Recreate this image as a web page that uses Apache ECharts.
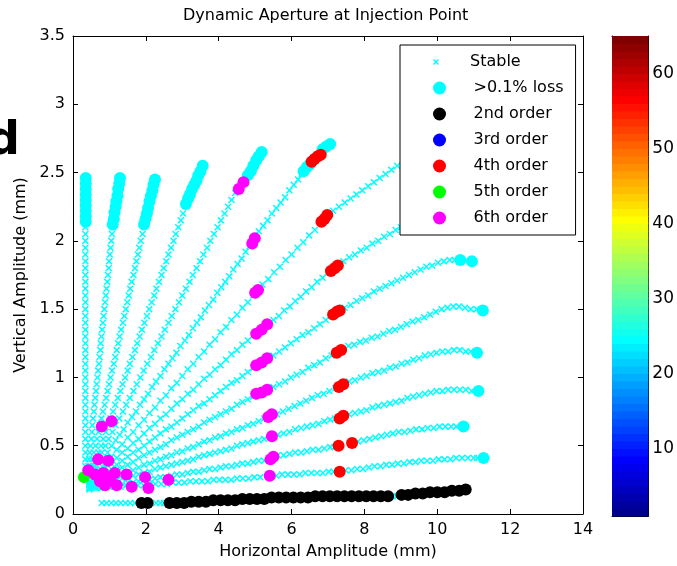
<!DOCTYPE html>
<html><head><meta charset="utf-8">
<script src="https://cdn.jsdelivr.net/npm/echarts@6/dist/echarts.min.js"></script>
<style>html,body{margin:0;padding:0;background:#fff}#c{width:677px;height:566px}</style>
</head><body><div id="c"></div>
<script>
// ---- data ----
const xTicks = [0, 2, 4, 6, 8, 10, 12, 14];
const yTicks = [0, 0.5, 1, 1.5, 2, 2.5, 3, 3.5];
const cbTicks = [10, 20, 30, 40, 50, 60];
const cbLevels = [1,2,3,4,5,6,7,8,9,10,11,12,13,14,15,16,17,18,19,20,21,22,23,24,25,26,27,28,29,30,31,32,
  33,34,35,36,37,38,39,40,41,42,43,44,45,46,47,48,49,50,51,52,53,54,55,56,57,58,59,60,61,62,63,64];

const rayA = [[0.34,0.30],[0.34,0.35],[0.34,0.40],[0.34,0.45],[0.34,0.50],[0.34,0.55],[0.34,0.60],[0.34,0.65],[0.34,0.70],[0.34,0.75],[0.34,0.80],[0.34,0.85],[0.34,0.90],[0.34,0.95],[0.34,1.00],[0.34,1.05],[0.34,1.10],[0.34,1.15],[0.34,1.20],[0.34,1.25],[0.34,1.30],[0.34,1.35],[0.34,1.40],[0.34,1.45],[0.34,1.50],[0.34,1.55],[0.34,1.60],[0.34,1.65],[0.34,1.70],[0.34,1.75],[0.34,1.80],[0.34,1.85],[0.34,1.90],[0.34,1.95],[0.34,2.00],[0.34,2.05],[0.34,2.10]];
const rayB = [[0.40,0.30],[0.42,0.35],[0.44,0.40],[0.46,0.45],[0.48,0.50],[0.50,0.55],[0.52,0.60],[0.53,0.65],[0.55,0.70],[0.57,0.75],[0.59,0.80],[0.61,0.85],[0.63,0.90],[0.65,0.95],[0.67,1.00],[0.69,1.05],[0.71,1.10],[0.73,1.15],[0.75,1.20],[0.76,1.25],[0.78,1.30],[0.80,1.35],[0.82,1.40],[0.84,1.45],[0.86,1.50],[0.88,1.55],[0.90,1.60],[0.92,1.65],[0.94,1.70],[0.96,1.75],[0.98,1.80],[0.99,1.85],[1.01,1.90],[1.03,1.95],[1.05,2.00],[1.07,2.05],[1.09,2.10]];
const rayC = [[0.45,0.30],[0.49,0.35],[0.53,0.40],[0.57,0.45],[0.62,0.50],[0.66,0.55],[0.70,0.60],[0.74,0.65],[0.78,0.70],[0.82,0.75],[0.87,0.80],[0.91,0.85],[0.95,0.90],[0.99,0.95],[1.03,1.00],[1.07,1.05],[1.12,1.10],[1.16,1.15],[1.20,1.20],[1.24,1.25],[1.28,1.30],[1.32,1.35],[1.37,1.40],[1.41,1.45],[1.45,1.50],[1.49,1.55],[1.53,1.60],[1.57,1.65],[1.61,1.70],[1.66,1.75],[1.70,1.80],[1.74,1.85],[1.78,1.90],[1.82,1.95],[1.86,2.00],[1.91,2.05]];
const rayD = [[0.50,0.30],[0.57,0.35],[0.63,0.40],[0.70,0.45],[0.77,0.50],[0.83,0.55],[0.90,0.60],[0.96,0.65],[1.03,0.70],[1.10,0.75],[1.16,0.80],[1.23,0.85],[1.30,0.90],[1.36,0.95],[1.43,1.00],[1.50,1.05],[1.56,1.10],[1.63,1.15],[1.70,1.20],[1.76,1.25],[1.83,1.30],[1.89,1.35],[1.96,1.40],[2.03,1.45],[2.09,1.50],[2.16,1.55],[2.23,1.60],[2.29,1.65],[2.36,1.70],[2.43,1.75],[2.49,1.80],[2.56,1.85],[2.62,1.90],[2.69,1.95],[2.76,2.00],[2.82,2.05],[2.89,2.10],[2.96,2.15],[3.02,2.20]];
const rayE = [[0.50,0.30],[0.60,0.35],[0.69,0.40],[0.79,0.45],[0.89,0.50],[0.98,0.55],[1.08,0.60],[1.17,0.65],[1.27,0.70],[1.37,0.75],[1.46,0.80],[1.56,0.85],[1.66,0.90],[1.75,0.95],[1.85,1.00],[1.94,1.05],[2.04,1.10],[2.14,1.15],[2.23,1.20],[2.33,1.25],[2.43,1.30],[2.52,1.35],[2.62,1.40],[2.71,1.45],[2.81,1.50],[2.91,1.55],[3.00,1.60],[3.10,1.65],[3.20,1.70],[3.29,1.75],[3.39,1.80],[3.49,1.85],[3.58,1.90],[3.68,1.95],[3.77,2.00],[3.87,2.05],[3.97,2.10],[4.06,2.15],[4.16,2.20],[4.26,2.25],[4.35,2.30],[4.45,2.35]];
const rayF = [[0.50,0.28],[0.61,0.32],[0.72,0.37],[0.83,0.41],[0.95,0.45],[1.06,0.50],[1.17,0.54],[1.28,0.58],[1.39,0.62],[1.50,0.67],[1.62,0.71],[1.73,0.75],[1.84,0.80],[1.95,0.84],[2.06,0.88],[2.17,0.93],[2.28,0.97],[2.40,1.01],[2.51,1.06],[2.62,1.10],[2.73,1.14],[2.84,1.18],[2.95,1.23],[3.07,1.27],[3.18,1.31],[3.29,1.36],[3.40,1.40],[3.51,1.44],[3.62,1.49],[3.73,1.53],[3.85,1.57],[3.96,1.62],[4.07,1.66],[4.18,1.70],[4.29,1.74],[4.40,1.79],[4.52,1.83],[4.63,1.87],[4.74,1.92],[4.85,1.96],
  [5.10,2.07],[5.22,2.11],[5.34,2.15],[5.46,2.20],[5.58,2.24],[5.70,2.28],[5.82,2.32],[5.94,2.37],[6.06,2.41],[6.18,2.45],[6.28,2.49]];
const rayG = [[0.45,0.24],[0.60,0.29],[0.75,0.33],[0.90,0.38],[1.05,0.42],[1.20,0.47],[1.35,0.51],[1.50,0.56],[1.65,0.60],[1.80,0.65],[1.95,0.69],[2.10,0.74],[2.25,0.78],[2.40,0.83],[2.55,0.87],[2.70,0.92],[2.85,0.96],[3.00,1.01],[3.15,1.06],[3.30,1.10],[3.45,1.15],[3.60,1.19],[3.75,1.24],[3.90,1.28],[4.05,1.33],[4.20,1.37],[4.35,1.42],[4.50,1.46],[4.65,1.51],[4.80,1.55],[4.95,1.60],
  [5.20,1.68],[5.36,1.72],[5.52,1.77],[5.68,1.81],[5.84,1.86],[6.00,1.90],[6.16,1.95],[6.32,1.99],[6.48,2.04],[6.64,2.08],[6.80,2.13],
  [7.14,2.22],[7.30,2.25],[7.46,2.28],[7.62,2.31],[7.78,2.34],[7.94,2.37],[8.10,2.40],[8.26,2.43],[8.42,2.46],[8.58,2.49],[8.74,2.52],[8.90,2.55]];
const rayH = [[0.45,0.23],[0.60,0.27],[0.75,0.30],[0.90,0.34],[1.05,0.37],[1.20,0.41],[1.35,0.45],[1.50,0.48],[1.65,0.52],[1.80,0.55],[1.95,0.59],[2.10,0.63],[2.25,0.66],[2.40,0.70],[2.55,0.73],[2.70,0.77],[2.85,0.81],[3.00,0.84],[3.15,0.88],[3.30,0.91],[3.45,0.95],[3.60,0.99],[3.75,1.02],[3.90,1.06],[4.05,1.09],[4.20,1.13],[4.35,1.17],[4.50,1.20],[4.65,1.24],[4.80,1.27],[4.95,1.31],
  [5.50,1.42],[5.65,1.45],[5.80,1.49],[5.95,1.52],[6.10,1.56],[6.25,1.59],[6.40,1.63],[6.55,1.66],[6.70,1.70],[6.85,1.73],[7.00,1.77],
  [7.42,1.85],[7.58,1.88],[7.74,1.90],[7.90,1.93],[8.06,1.95],[8.22,1.98],[8.38,2.00],[8.54,2.03],[8.70,2.05],[8.86,2.08],[9.00,2.10]];
const rayI = [[0.45,0.22],[0.60,0.25],[0.75,0.28],[0.90,0.30],[1.05,0.33],[1.20,0.36],[1.35,0.39],[1.50,0.42],[1.65,0.45],[1.80,0.47],[1.95,0.50],[2.10,0.53],[2.25,0.56],[2.40,0.59],[2.55,0.62],[2.70,0.64],[2.85,0.67],[3.00,0.70],[3.15,0.73],[3.30,0.76],[3.45,0.79],[3.60,0.81],[3.75,0.84],[3.90,0.87],[4.05,0.90],[4.20,0.93],[4.35,0.96],[4.50,0.98],[4.65,1.01],[4.80,1.04],[4.95,1.07],
  [5.50,1.16],[5.66,1.19],[5.82,1.22],[5.98,1.25],[6.14,1.28],[6.30,1.31],[6.46,1.33],[6.62,1.36],[6.78,1.39],[6.94,1.42],[7.10,1.45],
  [7.46,1.51],[7.62,1.53],[7.78,1.56],[7.94,1.58],[8.10,1.60],[8.26,1.63],[8.42,1.65],[8.58,1.67],[8.74,1.69],[8.90,1.71],[9.06,1.73],[9.22,1.75],[9.38,1.77],[9.54,1.79],[9.70,1.81],[9.86,1.82],[10.02,1.84],[10.18,1.85],[10.34,1.86],[10.48,1.86]];
const rayJ = [[0.45,0.21],[0.60,0.23],[0.75,0.25],[0.90,0.27],[1.05,0.30],[1.20,0.32],[1.35,0.34],[1.50,0.36],[1.65,0.38],[1.80,0.41],[1.95,0.43],[2.10,0.45],[2.25,0.47],[2.40,0.49],[2.55,0.51],[2.70,0.54],[2.85,0.56],[3.00,0.58],[3.15,0.60],[3.30,0.62],[3.45,0.64],[3.60,0.67],[3.75,0.69],[3.90,0.71],[4.05,0.73],[4.20,0.75],[4.35,0.77],[4.50,0.80],[4.65,0.82],[4.80,0.84],[4.95,0.86],
  [5.50,0.93],[5.66,0.95],[5.82,0.97],[5.98,1.00],[6.14,1.02],[6.30,1.04],[6.46,1.07],[6.62,1.09],[6.78,1.11],[6.94,1.14],[7.10,1.16],
  [7.56,1.23],[7.72,1.24],[7.88,1.26],[8.04,1.27],[8.20,1.29],[8.36,1.30],[8.52,1.32],[8.68,1.34],[8.84,1.35],[9.00,1.37],[9.16,1.39],[9.32,1.41],[9.48,1.42],[9.64,1.44],[9.80,1.46],[9.96,1.48],[10.12,1.50],[10.28,1.51],[10.44,1.52],[10.60,1.52],[10.76,1.51],[10.92,1.50],[11.08,1.50]];
const rayK = [[0.45,0.20],[0.60,0.22],[0.75,0.23],[0.90,0.25],[1.05,0.26],[1.20,0.28],[1.35,0.29],[1.50,0.31],[1.65,0.32],[1.80,0.34],[1.95,0.36],[2.10,0.37],[2.25,0.39],[2.40,0.40],[2.55,0.42],[2.70,0.43],[2.85,0.45],[3.00,0.46],[3.15,0.48],[3.30,0.49],[3.45,0.51],[3.60,0.53],[3.75,0.54],[3.90,0.56],[4.05,0.57],[4.20,0.59],[4.35,0.60],[4.50,0.62],[4.65,0.63],[4.80,0.65],[4.95,0.66],[5.10,0.68],[5.25,0.70],
  [5.60,0.73],[5.76,0.75],[5.92,0.77],[6.08,0.79],[6.24,0.81],[6.40,0.83],[6.56,0.85],[6.72,0.87],[6.88,0.88],[7.04,0.90],[7.20,0.92],
  [7.58,0.97],[7.74,0.98],[7.90,1.00],[8.06,1.01],[8.22,1.03],[8.38,1.04],[8.54,1.05],[8.70,1.07],[8.86,1.08],[9.02,1.10],[9.18,1.11],[9.34,1.13],[9.50,1.14],[9.66,1.16],[9.82,1.17],[9.98,1.18],[10.14,1.19],[10.30,1.19],[10.46,1.20],[10.62,1.20],[10.78,1.19],[10.92,1.19]];
const rayL = [[0.45,0.19],[0.60,0.20],[0.75,0.21],[0.90,0.22],[1.05,0.24],[1.20,0.25],[1.35,0.26],[1.50,0.27],[1.65,0.28],[1.80,0.29],[1.95,0.30],[2.10,0.31],[2.25,0.33],[2.40,0.34],[2.55,0.35],[2.70,0.36],[2.85,0.37],[3.00,0.38],[3.15,0.39],[3.30,0.40],[3.45,0.42],[3.60,0.43],[3.75,0.44],[3.90,0.45],[4.05,0.46],[4.20,0.47],[4.35,0.48],[4.50,0.50],[4.65,0.51],[4.80,0.52],[4.95,0.53],[5.10,0.54],[5.25,0.55],
  [5.62,0.58],[5.78,0.59],[5.94,0.60],[6.10,0.62],[6.26,0.63],[6.42,0.64],[6.58,0.65],[6.74,0.66],[6.90,0.68],[7.06,0.69],[7.20,0.70],
  [7.58,0.73],[7.74,0.74],[7.90,0.75],[8.06,0.76],[8.22,0.78],[8.38,0.79],[8.54,0.80],[8.70,0.81],[8.86,0.82],[9.02,0.83],[9.18,0.85],[9.34,0.86],[9.50,0.87],[9.66,0.88],[9.82,0.89],[9.98,0.90],[10.14,0.90],[10.30,0.91],[10.46,0.91],[10.62,0.91],[10.78,0.91],[10.94,0.90]];
const rayM = [[0.45,0.18],[0.60,0.19],[0.75,0.19],[0.90,0.20],[1.05,0.21],[1.20,0.21],[1.35,0.22],[1.50,0.23],[1.65,0.23],[1.80,0.24],[1.95,0.25],[2.10,0.25],[2.25,0.26],[2.40,0.27],[2.55,0.27],[2.70,0.28],[2.85,0.29],[3.00,0.29],[3.15,0.30],[3.30,0.31],[3.45,0.31],[3.60,0.32],[3.75,0.33],[3.90,0.33],[4.05,0.34],[4.20,0.35],[4.35,0.35],[4.50,0.36],[4.65,0.37],[4.80,0.37],[4.95,0.38],[5.10,0.39],[5.25,0.39],
  [5.62,0.43],[5.78,0.43],[5.94,0.44],[6.10,0.45],[6.26,0.45],[6.42,0.46],[6.58,0.47],[6.74,0.47],[6.90,0.48],[7.06,0.49],[7.18,0.49],
  [7.82,0.53],[7.98,0.54],[8.14,0.55],[8.30,0.56],[8.46,0.57],[8.62,0.58],[8.78,0.59],[8.94,0.60],[9.10,0.60],[9.26,0.61],[9.42,0.62],[9.58,0.62],[9.74,0.63],[9.90,0.63],[10.06,0.64],[10.22,0.64],[10.38,0.64],[10.52,0.64]];
const rayN = [[0.50,0.19],[0.66,0.19],[0.82,0.20],[0.98,0.20],[1.14,0.20],[1.30,0.20],[1.46,0.21],[1.62,0.21],[1.78,0.21],[1.94,0.21],[2.10,0.22],[2.26,0.22],[2.42,0.22],[2.58,0.22],[2.74,0.23],[2.90,0.23],[3.06,0.23],[3.22,0.24],[3.38,0.24],[3.54,0.24],[3.70,0.24],[3.86,0.25],[4.02,0.25],[4.18,0.25],[4.34,0.25],[4.50,0.26],[4.66,0.26],[4.82,0.26],[4.98,0.27],[5.14,0.27],
  [5.58,0.28],[5.74,0.29],[5.90,0.29],[6.06,0.29],[6.22,0.29],[6.38,0.30],[6.54,0.30],[6.70,0.30],[6.86,0.30],[7.02,0.31],[7.16,0.31],
  [7.48,0.32],[7.64,0.32],[7.80,0.33],[7.96,0.33],[8.12,0.34],[8.28,0.35],[8.44,0.35],[8.60,0.36],[8.76,0.36],[8.92,0.37],[9.08,0.37],[9.24,0.38],[9.40,0.38],[9.56,0.39],[9.72,0.39],[9.88,0.39],[10.04,0.40],[10.20,0.40],[10.36,0.40],[10.52,0.41],[10.68,0.41],[10.84,0.41],[11.00,0.41],[11.10,0.41]];
const bottomRow = [[0.79,0.08],[0.92,0.08],[1.05,0.08],[1.18,0.08],[1.31,0.08],[1.44,0.08],[1.57,0.08],[1.70,0.08],[2.28,0.08],[2.40,0.08],[2.50,0.08],[8.78,0.13],[8.88,0.13]];

const lossPts = [[0.35,2.14],[0.35,2.18],[0.35,2.22],[0.35,2.26],[0.35,2.30],[0.35,2.34],[0.35,2.38],[0.35,2.42],[0.35,2.46],
  [1.09,2.12],[1.12,2.16],[1.14,2.21],[1.17,2.25],[1.19,2.29],[1.22,2.33],[1.24,2.38],[1.27,2.42],[1.29,2.46],
  [1.95,2.12],[1.99,2.16],[2.03,2.20],[2.06,2.24],[2.10,2.29],[2.14,2.33],[2.18,2.37],[2.21,2.41],[2.25,2.45],
  [3.10,2.27],[3.16,2.31],[3.21,2.34],[3.27,2.38],[3.33,2.41],[3.39,2.44],[3.44,2.48],[3.50,2.51],[3.56,2.55],
  [4.80,2.48],[4.88,2.51],[4.95,2.55],[5.03,2.59],[5.10,2.62],[5.18,2.65],
  [6.33,2.51],[6.42,2.54],[6.50,2.56],[6.85,2.67],[6.95,2.69],[7.06,2.71],
  [10.63,1.86],[10.95,1.85],[11.25,1.49],[11.09,1.18],[11.13,0.90],[10.72,0.64],[11.27,0.41]];
const order2Pts = [[1.88,0.08],[2.05,0.08],
  [2.65,0.08],[2.85,0.08],[3.05,0.08],[3.25,0.09],[3.45,0.09],[3.65,0.09],[3.85,0.10],[4.05,0.10],[4.25,0.10],[4.45,0.10],[4.65,0.11],[4.85,0.11],[5.05,0.11],[5.25,0.11],[5.45,0.12],[5.65,0.12],[5.85,0.12],[6.05,0.12],[6.25,0.12],[6.45,0.12],[6.65,0.13],[6.85,0.13],[7.05,0.13],[7.25,0.13],[7.45,0.13],[7.65,0.13],[7.85,0.13],[8.05,0.13],[8.25,0.13],[8.45,0.13],[8.65,0.13],
  [9.02,0.14],[9.20,0.14],[9.40,0.15],[9.60,0.15],[9.80,0.16],[10.00,0.16],[10.20,0.16],[10.40,0.17],[10.60,0.17],[10.78,0.18]];
const order3Pts = [];
const order4Pts = [[6.55,2.58],[6.63,2.60],[6.72,2.62],[6.80,2.63],
  [6.82,2.14],[6.90,2.16],[6.98,2.19],
  [7.08,1.78],[7.18,1.80],[7.27,1.82],
  [7.14,1.46],[7.24,1.48],[7.32,1.49],
  [7.24,1.18],[7.36,1.20],
  [7.30,0.93],[7.42,0.95],
  [7.32,0.70],[7.42,0.72],
  [7.29,0.50],[7.66,0.52],
  [7.32,0.31]];
const order5Pts = [[0.30,0.27]];
const order6Pts = [[0.79,0.64],[1.06,0.68],[0.69,0.40],[0.97,0.39],[0.42,0.32],[0.60,0.29],[0.83,0.30],[0.88,0.21],[1.15,0.30],[1.20,0.21],[1.47,0.29],[1.61,0.20],[1.02,0.25],[0.74,0.24],[1.98,0.27],[2.07,0.19],[2.62,0.25],
  [4.55,2.38],[4.68,2.43],
  [4.92,1.98],[4.99,2.02],
  [5.00,1.62],[5.08,1.64],
  [5.03,1.32],[5.18,1.35],[5.33,1.39],
  [5.03,1.09],[5.18,1.11],[5.33,1.14],
  [5.03,0.88],[5.18,0.89],[5.33,0.91],
  [5.36,0.71],[5.46,0.73],
  [5.46,0.57],
  [5.42,0.40],[5.50,0.42],
  [5.40,0.28]];

const stablePts = [].concat(rayA, rayB, rayC, rayD, rayE, rayF, rayG, rayH, rayI, rayJ, rayK, rayL, rayM, rayN, bottomRow);

// ---- styling ----
const FONT = 'DejaVu Sans';
const XPATH = 'path://M0,1.5L1.5,0L5,3.5L8.5,0L10,1.5L6.5,5L10,8.5L8.5,10L5,6.5L1.5,10L0,8.5L3.5,5Z';
function jet(i) {
  const u = k => k <= 16 ? k / 16 : (k <= 31 ? 1 : (48 - k) / 16);
  let r = 0, g = 0, b = 0;
  if (i >= 25) r = u(i - 24);
  if (i >= 9 && i <= 55) g = u(i - 8);
  if (i <= 39) b = u(i + 8);
  return 'rgb(' + Math.round(r * 255) + ',' + Math.round(g * 255) + ',' + Math.round(b * 255) + ')';
}
const lineStyle = { color: '#000', width: 1 };
function axis(extra) {
  return Object.assign({
    type: 'value', splitLine: { show: false },
    axisLine: { show: true, onZero: false, lineStyle: lineStyle },
    axisTick: { show: true, inside: true, length: 5, lineStyle: lineStyle },
    axisLabel: { show: false }
  }, extra);
}
const lbl = { show: true, color: '#000', fontSize: 16, fontFamily: FONT, margin: 8 };
const nameStyle = { color: '#000', fontSize: 16, fontFamily: FONT };

function dotSeries(name, data, color) {
  return { name: name, type: 'scatter', data: data, symbol: 'circle', symbolSize: 12,
    itemStyle: { color: color, opacity: 1 }, xAxisIndex: 0, yAxisIndex: 0, emphasis: { disabled: true } };
}

const chart = echarts.init(document.getElementById('c'), null, { renderer: 'canvas' });
chart.setOption({
  animation: false,
  backgroundColor: '#fff',
  title: { text: 'Dynamic Aperture at Injection Point', left: 183, top: 8, padding: 0,
    textStyle: { fontSize: 16, fontWeight: 'normal', fontFamily: FONT, color: '#000' } },
  graphic: [{ type: 'text', left: -13, top: 119, z: 10,
    style: { text: 'd', fontSize: 46, fontWeight: 'bold', fontFamily: FONT, fill: '#000' } }],
  grid: [
    { left: 73, top: 36, width: 510, height: 478 },
    { left: 612, top: 36, width: 37, height: 480 }
  ],
  xAxis: [
    axis({ gridIndex: 0, min: xTicks[0], max: xTicks[xTicks.length - 1], interval: 2, position: 'bottom',
      axisLabel: lbl, name: 'Horizontal Amplitude (mm)', nameLocation: 'middle', nameGap: 30, nameTextStyle: nameStyle }),
    axis({ gridIndex: 0, min: xTicks[0], max: xTicks[xTicks.length - 1], interval: 2, position: 'top' }),
    axis({ gridIndex: 1, min: 0, max: 1, position: 'bottom', axisTick: { show: false } }),
    axis({ gridIndex: 1, min: 0, max: 1, position: 'top', axisTick: { show: false } })
  ],
  yAxis: [
    axis({ gridIndex: 0, min: yTicks[0], max: yTicks[yTicks.length - 1], interval: 0.5, position: 'left',
      axisLabel: lbl, name: 'Vertical Amplitude (mm)', nameLocation: 'middle', nameGap: 43, nameRotate: 90, nameTextStyle: nameStyle }),
    axis({ gridIndex: 0, min: yTicks[0], max: yTicks[yTicks.length - 1], interval: 0.5, position: 'right' }),
    axis({ gridIndex: 1, min: 1, max: 65, position: 'left',
      axisTick: { show: true, inside: true, length: 4, lineStyle: lineStyle, customValues: cbTicks } }),
    axis({ gridIndex: 1, min: 1, max: 65, position: 'right',
      axisTick: { show: true, inside: true, length: 4, lineStyle: lineStyle, customValues: cbTicks },
      axisLabel: { show: true, color: '#000', fontSize: 17, fontFamily: FONT, margin: 4, customValues: cbTicks } })
  ],
  legend: [
    { data: ['>0.1% loss', '2nd order', '3rd order', '4th order', '5th order', '6th order'],
      orient: 'vertical', left: 400, top: 45, padding: [35, 12, 9, 33], itemWidth: 58, itemHeight: 13, itemGap: 10,
      backgroundColor: '#fff', borderColor: '#000', borderWidth: 1, selectedMode: false,
      textStyle: { fontSize: 16, fontFamily: FONT, color: '#000', lineHeight: 16 } },
    { data: ['Stable'], orient: 'vertical', left: 400, top: 45, padding: [9, 10, 0, 33], itemWidth: 58, itemHeight: 6,
      selectedMode: false, textStyle: { fontSize: 16, fontFamily: FONT, color: '#000', lineHeight: 16 } }
  ],
  series: [
    { name: 'Stable', type: 'scatter', data: stablePts, symbol: XPATH, symbolSize: 7,
      itemStyle: { color: '#00ffff', opacity: 1 }, xAxisIndex: 0, yAxisIndex: 0, emphasis: { disabled: true } },
    dotSeries('>0.1% loss', lossPts, '#00ffff'),
    dotSeries('2nd order', order2Pts, '#000000'),
    dotSeries('3rd order', order3Pts, '#0000ff'),
    dotSeries('4th order', order4Pts, '#ff0000'),
    dotSeries('5th order', order5Pts, '#00ff00'),
    dotSeries('6th order', order6Pts, '#ff00ff'),
    { type: 'custom', xAxisIndex: 2, yAxisIndex: 2, silent: true,
      data: cbLevels.map(v => [0, v]), encode: { x: 0, y: 1 },
      renderItem: function (params, api) {
        const v = api.value(1);
        const p0 = api.coord([0, v]);
        const p1 = api.coord([1, v + 1]);
        return { type: 'rect', shape: { x: p0[0], y: p1[1], width: p1[0] - p0[0], height: p0[1] - p1[1] + 0.6 },
          style: { fill: jet(v) } };
      } }
  ]
});
</script>
</body></html>
